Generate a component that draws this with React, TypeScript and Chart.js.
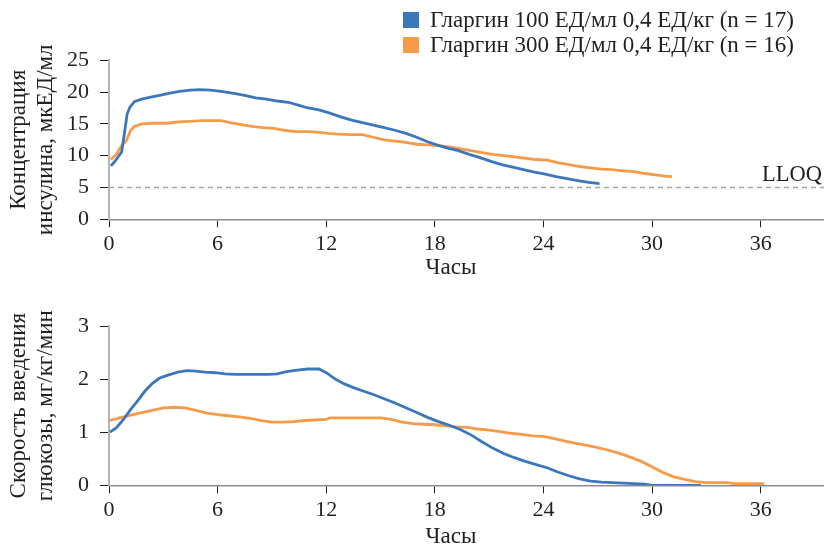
import React, { useEffect, useRef } from "react";
import { Chart, registerables } from "chart.js";

Chart.register(...registerables);

// ---------- data ----------
const hourTicks = [0, 6, 12, 18, 24, 30, 36];
const seriesLabels = [
  "Гларгин 100 ЕД/мл 0,4 ЕД/кг (n = 17)",
  "Гларгин 300 ЕД/мл 0,4 ЕД/кг (n = 16)",
];
const lloqValue = 5;
const lloqLabel = "LLOQ";
const xTitle = "Часы";
const insulinTitle = ["Концентрация", "инсулина, мкЕД/мл"];
const girTitle = ["Скорость введения", "глюкозы, мг/кг/мин"];

// Insulin concentration, Glargine 100
const hoursIns100 = [0.1, 0.3, 0.5, 0.7, 0.85, 1.0, 1.15, 1.4, 1.8, 2.3, 2.8, 3.3, 3.9, 4.5, 5.0, 5.6, 6.2, 6.9, 7.5, 8.1, 8.7, 9.3, 9.9, 10.5, 11.0, 11.6, 12.2, 12.8, 13.4, 14.0, 14.6, 15.2, 15.8, 16.4, 17.0, 17.6, 18.1, 18.7, 19.3, 19.9, 20.5, 21.1, 21.7, 22.3, 22.9, 23.5, 24.1, 24.7, 25.3, 25.9, 26.5, 27.1];
const ins100 = [8.4, 9.0, 9.8, 10.6, 13.5, 16.5, 17.6, 18.5, 18.9, 19.2, 19.5, 19.8, 20.1, 20.3, 20.4, 20.3, 20.1, 19.8, 19.5, 19.1, 18.9, 18.6, 18.4, 17.9, 17.5, 17.2, 16.7, 16.1, 15.6, 15.2, 14.8, 14.4, 14.0, 13.5, 12.9, 12.2, 11.7, 11.2, 10.8, 10.2, 9.7, 9.1, 8.6, 8.2, 7.8, 7.4, 7.1, 6.7, 6.4, 6.1, 5.8, 5.6];

// Insulin concentration, Glargine 300
const hoursIns300 = [0.1, 0.4, 0.7, 0.95, 1.2, 1.4, 1.8, 2.5, 3.2, 3.8, 4.4, 5.2, 6.2, 6.7, 7.3, 7.9, 8.5, 9.1, 9.7, 10.3, 10.9, 11.5, 12.1, 12.7, 13.3, 14.0, 14.6, 15.2, 15.8, 16.4, 17.0, 17.6, 18.2, 18.8, 19.4, 20.0, 20.6, 21.2, 21.8, 22.4, 23.0, 23.6, 24.2, 24.8, 25.4, 26.0, 26.6, 27.2, 27.8, 28.4, 29.0, 29.6, 30.2, 30.7, 31.1];
const ins300 = [9.4, 10.2, 11.6, 12.3, 14.0, 14.6, 15.0, 15.1, 15.1, 15.3, 15.4, 15.5, 15.5, 15.2, 14.9, 14.6, 14.4, 14.3, 14.0, 13.8, 13.8, 13.7, 13.5, 13.4, 13.3, 13.3, 12.9, 12.5, 12.3, 12.1, 11.8, 11.7, 11.6, 11.4, 11.1, 10.8, 10.5, 10.2, 10.0, 9.8, 9.6, 9.4, 9.3, 8.9, 8.6, 8.3, 8.1, 7.9, 7.8, 7.6, 7.5, 7.2, 7.0, 6.8, 6.7];

// Glucose infusion rate, Glargine 100
const hoursGir100 = [0.05, 0.4, 0.8, 1.2, 1.6, 2.0, 2.4, 2.8, 3.3, 3.8, 4.3, 4.8, 5.3, 5.9, 6.4, 7.0, 7.6, 8.2, 8.8, 9.3, 9.8, 10.4, 11.0, 11.6, 12.0, 12.5, 13.0, 13.5, 14.0, 14.6, 15.2, 15.8, 16.4, 17.0, 17.6, 18.2, 18.8, 19.4, 20.0, 20.6, 21.2, 21.8, 22.4, 23.0, 23.6, 24.2, 24.8, 25.4, 26.0, 26.6, 27.2, 27.8, 28.4, 29.0, 29.6, 30.0, 31.0, 32.7];
const gir100 = [1.0, 1.08, 1.24, 1.43, 1.6, 1.78, 1.92, 2.02, 2.08, 2.13, 2.16, 2.15, 2.13, 2.12, 2.1, 2.09, 2.09, 2.09, 2.09, 2.1, 2.14, 2.17, 2.19, 2.19, 2.12, 2.0, 1.91, 1.84, 1.78, 1.71, 1.63, 1.55, 1.46, 1.37, 1.28, 1.2, 1.13, 1.05, 0.95, 0.82, 0.7, 0.6, 0.52, 0.45, 0.39, 0.33, 0.25, 0.18, 0.12, 0.08, 0.06, 0.05, 0.04, 0.03, 0.02, 0.0, 0.0, 0.0];

// Glucose infusion rate, Glargine 300
const hoursGir300 = [0.05, 0.6, 1.2, 1.8, 2.4, 3.0, 3.6, 4.2, 4.8, 5.4, 6.0, 6.6, 7.2, 7.8, 8.4, 9.0, 9.6, 10.2, 10.8, 11.4, 12.0, 12.2, 13.0, 14.0, 15.0, 15.6, 16.2, 16.8, 17.4, 18.0, 18.6, 19.2, 19.8, 20.4, 21.0, 21.6, 22.2, 22.8, 23.4, 24.0, 24.6, 25.2, 25.8, 26.4, 27.0, 27.6, 28.2, 28.8, 29.4, 30.0, 30.6, 31.2, 31.8, 32.4, 33.0, 33.6, 34.2, 34.5, 35.2, 36.2];
const gir300 = [1.22, 1.27, 1.32, 1.37, 1.41, 1.46, 1.47, 1.46, 1.41, 1.36, 1.33, 1.31, 1.29, 1.26, 1.22, 1.19, 1.19, 1.2, 1.22, 1.23, 1.24, 1.27, 1.27, 1.27, 1.27, 1.24, 1.19, 1.16, 1.15, 1.14, 1.12, 1.1, 1.09, 1.06, 1.04, 1.01, 0.98, 0.96, 0.93, 0.92, 0.88, 0.83, 0.79, 0.75, 0.71, 0.66, 0.6, 0.53, 0.45, 0.35, 0.24, 0.16, 0.11, 0.07, 0.05, 0.05, 0.05, 0.03, 0.03, 0.03];

// ---------- style ----------
const BLUE = "#3a77bd";
const ORANGE = "#f79b4b";
const TEXT = "#231f20";
const FONT = "'Liberation Serif', 'DejaVu Serif', serif";
const X_MAX = 39.5;
const W = 824;

const pts = (xs: number[], ys: number[]) => xs.map((x, i) => ({ x, y: ys[i] }));

function lineDs(label: string, xs: number[], ys: number[], color: string, order: number) {
  return {
    label,
    data: pts(xs, ys),
    borderColor: color,
    backgroundColor: color,
    borderWidth: 2.8,
    pointRadius: 0,
    tension: 0,
    fill: false,
    order,
  };
}

function makeOptions(yMax: number, step: number, yTitle: string[], topPad: number, xHeight: number, extras: any) {
  const tickFont = { family: FONT, size: 22 };
  return {
    animation: false,
    responsive: false,
    events: [],
    layout: { padding: { top: topPad, left: 0, right: 0, bottom: 0 } },
    plugins: { legend: { display: false }, tooltip: { enabled: false }, extras },
    scales: {
      x: {
        type: "linear",
        min: 0,
        max: X_MAX,
        afterBuildTicks: (s: any) => {
          s.ticks = hourTicks.map((v) => ({ value: v }));
        },
        afterFit: (s: any) => {
          s.height = xHeight;
        },
        ticks: { font: tickFont, color: TEXT, padding: 4, maxRotation: 0, autoSkip: false },
        grid: { drawOnChartArea: false, drawTicks: true, tickLength: 8, color: TEXT, lineWidth: 1 },
        border: { color: "#8c8c8c", width: 1.5 },
      },
      y: {
        min: 0,
        max: yMax,
        ticks: { stepSize: step, font: tickFont, color: TEXT, padding: 11 },
        afterFit: (s: any) => {
          s.width = 109;
        },
        grid: { drawOnChartArea: false, drawTicks: true, tickLength: 9, color: TEXT, lineWidth: 1 },
        border: { color: "#b5b5b5", width: 2 },
        title: {
          display: true,
          text: yTitle,
          color: TEXT,
          font: { family: FONT, size: 23, lineHeight: 1.2 },
          padding: { top: 5, bottom: 0 },
        },
      },
    },
  };
}

const extrasPlugin = {
  id: "extras",
  afterDraw(chart: any, _args: any, opts: any) {
    const ctx = chart.ctx;
    ctx.save();
    ctx.fillStyle = TEXT;
    ctx.font = `23px ${FONT}`;
    // x-axis title
    ctx.textAlign = "center";
    ctx.textBaseline = "middle";
    ctx.fillText(xTitle, opts.xTitleX, opts.xTitleY);
    if (opts.legend) {
      const items = seriesLabels
        .map((l) => chart.data.datasets.find((d: any) => d.label === l))
        .filter(Boolean);
      items.forEach((d: any, i: number) => {
        const cy = opts.legendY + i * 25;
        ctx.fillStyle = d.borderColor;
        ctx.fillRect(opts.legendX, cy - 8, 16, 16);
        ctx.fillStyle = TEXT;
        ctx.textAlign = "left";
        ctx.textBaseline = "middle";
        ctx.fillText(d.label, opts.legendX + 27, cy + 1);
      });
    }
    if (opts.lloq) {
      const y = chart.scales.y.getPixelForValue(lloqValue);
      ctx.font = `22.5px ${FONT}`;
      ctx.textAlign = "right";
      ctx.textBaseline = "alphabetic";
      ctx.fillStyle = TEXT;
      ctx.fillText(lloqLabel, W - 2, y - 7);
    }
    ctx.restore();
  },
};

export default function App() {
  const topRef = useRef<HTMLCanvasElement>(null);
  const botRef = useRef<HTMLCanvasElement>(null);

  useEffect(() => {
    const top = new Chart(topRef.current as HTMLCanvasElement, {
      type: "line",
      data: {
        datasets: [
          {
            label: lloqLabel,
            data: [
              { x: 0, y: lloqValue },
              { x: X_MAX, y: lloqValue },
            ],
            borderColor: "#a6a6a6",
            borderWidth: 1.5,
            borderDash: [5, 4],
            pointRadius: 0,
            order: 3,
          },
          lineDs(seriesLabels[0], hoursIns100, ins100, BLUE, 1),
          lineDs(seriesLabels[1], hoursIns300, ins300, ORANGE, 2),
        ] as any,
      },
      options: makeOptions(25, 5, insulinTitle, 60.3, 290 - 219.3, {
        xTitleX: 451,
        xTitleY: 268,
        legend: true,
        legendX: 403,
        legendY: 20,
        lloq: true,
      }) as any,
      plugins: [extrasPlugin],
    });

    const bot = new Chart(botRef.current as HTMLCanvasElement, {
      type: "line",
      data: {
        datasets: [
          lineDs(seriesLabels[0], hoursGir100, gir100, BLUE, 1),
          lineDs(seriesLabels[1], hoursGir300, gir300, ORANGE, 2),
        ] as any,
      },
      options: makeOptions(3, 1, girTitle, 36, 260 - 195.3, {
        xTitleX: 451,
        xTitleY: 247,
        legend: false,
        lloq: false,
      }) as any,
      plugins: [extrasPlugin],
    });
    return () => {
      top.destroy();
      bot.destroy();
    };
  }, []);

  return (
    <div style={{ position: "fixed", left: 0, top: 0, width: W, height: 550, background: "#fff" }}>
      <canvas ref={topRef} width={W} height={290} style={{ position: "absolute", left: 0, top: 0, display: "block" }} />
      <canvas ref={botRef} width={W} height={260} style={{ position: "absolute", left: 0, top: 290, display: "block" }} />
    </div>
  );
}
